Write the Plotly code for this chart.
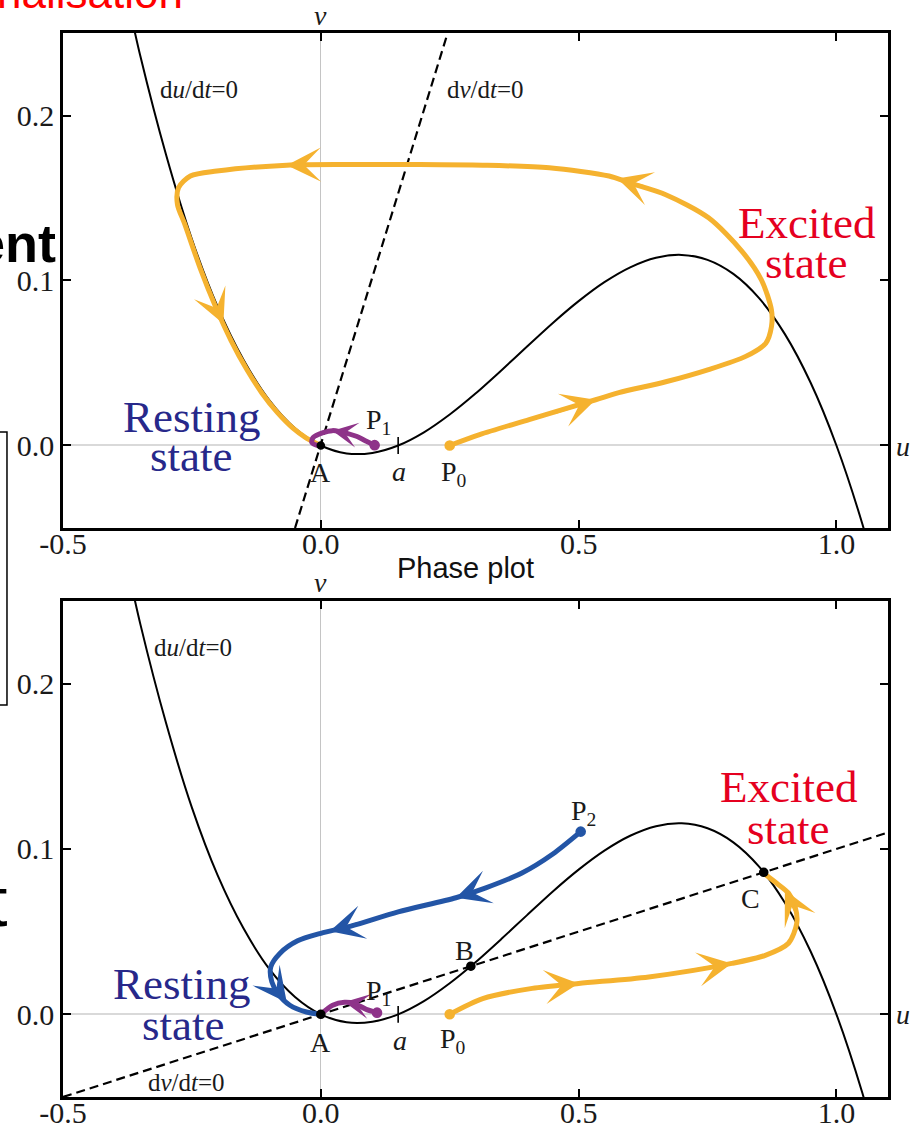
import plotly.graph_objects as go

SERIF = "Liberation Serif"
SANS = "Liberation Sans"

# ---------------- data ----------------
# du/dt = 0 nullcline (cubic)
NULL_U = [-0.38, -0.35, -0.30, -0.25, -0.20, -0.15, -0.10, -0.05, 0.0, 0.05, 0.10, 0.15,
          0.20, 0.25, 0.30, 0.35, 0.40, 0.45, 0.50, 0.55, 0.60, 0.65, 0.70, 0.75, 0.80, 0.85,
          0.90, 0.95, 1.00, 1.05, 1.10]
NULL_V = [0.278, 0.236, 0.176, 0.125, 0.084, 0.052, 0.0275, 0.0105, 0.0, -0.0048, -0.0045, 0.0,
          0.008, 0.0188, 0.0315, 0.0455, 0.060, 0.0743, 0.0875, 0.099, 0.108, 0.1138, 0.1155,
          0.1125, 0.104, 0.0893, 0.0675, 0.038, 0.0, -0.0473, -0.1045]

# dv/dt = 0 nullclines
DVDT_TOP_U = [-0.05, 0.246]
DVDT_TOP_V = [-0.05, 0.25]
DVDT_BOT_U = [-0.5, 1.1]
DVDT_BOT_V = [-0.05, 0.11]

# top panel trajectories
TOP_P0_U = [0.25, 0.308, 0.404, 0.533, 0.578, 0.669, 0.752, 0.824, 0.863, 0.874, 0.874, 0.855, 0.816,
            0.752, 0.669, 0.598, 0.559, 0.443, 0.314, 0.185, 0.056, -0.066, -0.2017, -0.253, -0.276,
            -0.278, -0.264, -0.234, -0.204, -0.174, -0.144, -0.114, -0.084, -0.054, -0.028, 0.0]
TOP_P0_V = [0.0, 0.0066, 0.0157, 0.0277, 0.032, 0.0386, 0.046, 0.054, 0.062, 0.072, 0.082, 0.100, 0.118,
            0.138, 0.152, 0.1592, 0.1633, 0.1683, 0.1699, 0.1703, 0.1703, 0.1699, 0.1663, 0.1633, 0.1562,
            0.146, 0.1343, 0.1075, 0.084, 0.0636, 0.0463, 0.0317, 0.0199, 0.0105, 0.0045, 0.0]
TOP_P1_U = [0.1044, 0.0884, 0.069, 0.0368, 0.0226, 0.0045, -0.015, -0.0174, -0.006, 0.0]
TOP_P1_V = [0.0002, 0.0026, 0.0056, 0.0084, 0.009, 0.0078, 0.0048, 0.0018, 0.0, 0.0]

# bottom panel trajectories
BOT_P0_U = [0.25, 0.314, 0.41, 0.5, 0.636, 0.797, 0.862, 0.907, 0.923, 0.92, 0.907, 0.881, 0.859]
BOT_P0_V = [0.0, 0.0095, 0.0157, 0.0187, 0.0226, 0.0308, 0.0357, 0.043, 0.055, 0.065, 0.0733, 0.080, 0.0853]
BOT_P1_U = [0.109, 0.088, 0.066, 0.046, 0.023, 0.0]
BOT_P1_V = [0.001, 0.003, 0.0065, 0.0073, 0.0055, 0.0]
BOT_P2_U = [0.504, 0.45, 0.39, 0.32, 0.262, 0.15, 0.06, 0.0, -0.045, -0.079, -0.097, -0.095, -0.083, -0.06, -0.028, 0.0]
BOT_P2_V = [0.1105, 0.097, 0.0855, 0.0765, 0.0705, 0.062, 0.0535, 0.049, 0.0445, 0.037, 0.0287, 0.0196, 0.0125, 0.0055, 0.0014, 0.0]

# fixed points (A, B, C)
TOP_FIXED_U = [0.0]
TOP_FIXED_V = [0.0]
BOT_FIXED_U = [0.0, 0.291, 0.859]
BOT_FIXED_V = [0.0, 0.0291, 0.0859]
A_PARAM = 0.15

# arrow heads: (tip_u, tip_v, tail_u, tail_v)
TOP_ORANGE_ARROWS = [(0.533, 0.0277, 0.45, 0.0195), (0.575, 0.1618, 0.63, 0.1565),
                     (-0.066, 0.1699, 0.02, 0.1703), (-0.189, 0.0738, -0.215, 0.0925)]
TOP_PURPLE_ARROWS = [(0.0226, 0.009, 0.055, 0.0072)]
BOT_ORANGE_ARROWS = [(0.50, 0.0187, 0.42, 0.016), (0.797, 0.0308, 0.71, 0.026), (0.90, 0.0752, 0.921, 0.062)]
BOT_BLUE_ARROWS = [(0.262, 0.0705, 0.32, 0.0765), (0.0174, 0.0502, 0.08, 0.0555), (-0.066, 0.0072, -0.09, 0.017)]
BOT_PURPLE_ARROWS = [(0.046, 0.0074, 0.072, 0.006)]

X_TICKS = [-0.5, 0.0, 0.5, 1.0]
X_TICKTEXT = ["-0.5", "0.0", "0.5", "1.0"]
Y_TICKS = [0.0, 0.1, 0.2]
Y_TICKTEXT = ["0.0", "0.1", "0.2"]

ORANGE = "#F5B22F"
PURPLE = "#8E3389"
BLUE = "#2355A6"
RED_TXT = "#E5001F"
NAVY_TXT = "#27288A"

fig = go.Figure()


def line(u, v, xa, ya, color, width, dash=None):
    fig.add_trace(go.Scatter(x=u, y=v, xaxis=xa, yaxis=ya, mode="lines",
                             line=dict(color=color, width=width, dash=dash, shape="spline", smoothing=0.8),
                             hoverinfo="skip"))


def dots(u, v, xa, ya, color, size=9, symbol="circle"):
    fig.add_trace(go.Scatter(x=u, y=v, xaxis=xa, yaxis=ya, mode="markers",
                             marker=dict(color=color, size=size, symbol=symbol,
                                         line=dict(color=color, width=1.6)),
                             hoverinfo="skip"))


for xa, ya, dvu, dvv in [("x", "y", DVDT_TOP_U, DVDT_TOP_V), ("x2", "y2", DVDT_BOT_U, DVDT_BOT_V)]:
    fig.add_trace(go.Scatter(x=dvu, y=dvv, xaxis=xa, yaxis=ya, mode="lines",
                             line=dict(color="black", width=2.2, dash="9px,5px"), hoverinfo="skip"))
    line(NULL_U, NULL_V, xa, ya, "black", 2)
    dots([A_PARAM], [0.0], xa, ya, "black", size=12, symbol="line-ns")

# top panel
line(TOP_P0_U, TOP_P0_V, "x", "y", ORANGE, 5)
line(TOP_P1_U, TOP_P1_V, "x", "y", PURPLE, 5)
dots(TOP_FIXED_U, TOP_FIXED_V, "x", "y", "black", size=7)
dots([TOP_P0_U[0]], [TOP_P0_V[0]], "x", "y", ORANGE)
dots([TOP_P1_U[0]], [TOP_P1_V[0]], "x", "y", PURPLE)

# bottom panel
line(BOT_P0_U, BOT_P0_V, "x2", "y2", ORANGE, 5)
line(BOT_P2_U, BOT_P2_V, "x2", "y2", BLUE, 5)
line(BOT_P1_U, BOT_P1_V, "x2", "y2", PURPLE, 5)
dots(BOT_FIXED_U, BOT_FIXED_V, "x2", "y2", "black", size=8)
dots([BOT_P0_U[0]], [BOT_P0_V[0]], "x2", "y2", ORANGE)
dots([BOT_P1_U[0]], [BOT_P1_V[0]], "x2", "y2", PURPLE)
dots([BOT_P2_U[0]], [BOT_P2_V[0]], "x2", "y2", BLUE)

ann = []


def arrows(lst, xr, yr, color, size=1.9):
    for tu, tv, su, sv in lst:
        ann.append(dict(x=tu, y=tv, ax=su, ay=sv, xref=xr, yref=yr, axref=xr, ayref=yr,
                        text="", showarrow=True, arrowhead=3, arrowsize=size, arrowwidth=3,
                        arrowcolor=color, standoff=0))


arrows(TOP_ORANGE_ARROWS, "x", "y", ORANGE)
arrows(TOP_PURPLE_ARROWS, "x", "y", PURPLE, size=1.4)
arrows(BOT_ORANGE_ARROWS, "x2", "y2", ORANGE)
arrows(BOT_BLUE_ARROWS, "x2", "y2", BLUE)
arrows(BOT_PURPLE_ARROWS, "x2", "y2", PURPLE, size=1.4)


def label(text, x, y, xr, yr, size=28, color="#1a1a1a", family=SERIF, xanchor="center", yanchor="middle"):
    ann.append(dict(text=text, x=x, y=y, xref=xr, yref=yr, showarrow=False,
                    font=dict(family=family, size=size, color=color),
                    xanchor=xanchor, yanchor=yanchor))


# top panel labels
label("d<i>u</i>/d<i>t</i>=0", -0.315, 0.216, "x", "y", size=25, xanchor="left")
label("d<i>v</i>/d<i>t</i>=0", 0.240, 0.216, "x", "y", size=25, xanchor="left")
label("A", 0.0, -0.0163, "x", "y")
label("<i>a</i>", 0.151, -0.0157, "x", "y")
label("P<sub>0</sub>", 0.258, -0.017, "x", "y")
label("P<sub>1</sub>", 0.111, 0.0145, "x", "y")
label("Excited", 0.942, 0.1349, "x", "y", size=45, color=RED_TXT)
label("state", 0.940, 0.1108, "x", "y", size=45, color=RED_TXT)
label("Resting", -0.2495, 0.0175, "x", "y", size=45, color=NAVY_TXT)
label("state", -0.251, -0.0066, "x", "y", size=45, color=NAVY_TXT)

# bottom panel labels
label("d<i>u</i>/d<i>t</i>=0", -0.327, 0.2218, "x2", "y2", size=25, xanchor="left")
label("d<i>v</i>/d<i>t</i>=0", -0.340, -0.0412, "x2", "y2", size=25, xanchor="left")
label("A", 0.0, -0.017, "x2", "y2")
label("<i>a</i>", 0.153, -0.016, "x2", "y2")
label("P<sub>0</sub>", 0.256, -0.016, "x2", "y2")
label("P<sub>1</sub>", 0.111, 0.0133, "x2", "y2")
label("P<sub>2</sub>", 0.510, 0.122, "x2", "y2")
label("B", 0.279, 0.0388, "x2", "y2")
label("C", 0.834, 0.0703, "x2", "y2")
label("Excited", 0.907, 0.1376, "x2", "y2", size=45, color=RED_TXT)
label("state", 0.907, 0.1121, "x2", "y2", size=45, color=RED_TXT)
label("Resting", -0.269, 0.0182, "x2", "y2", size=45, color=NAVY_TXT)
label("state", -0.267, -0.0067, "x2", "y2", size=45, color=NAVY_TXT)

# axis-name labels and slide fragments (paper coordinates)
label("<i>v</i>", 0.3127, 1.0169, "paper", "paper")
label("<i>v</i>", 0.3127, 0.4831, "paper", "paper")
label("<i>u</i>", 1.0182, 0.6118, "paper", "paper")
label("<i>u</i>", 1.0182, 0.0780, "paper", "paper")
label("Phase plot", 0.4873, 0.4972, "paper", "paper", size=29, color="#111111", family=SANS)
label("nalisation", 0.1479, 1.0385, "paper", "paper", size=44, color="#FF0000", family=SANS, xanchor="right")
label("<b>ent</b>", -0.006, 0.8026, "paper", "paper", size=54, color="#000000",
      family="Liberation Sans Narrow, Liberation Sans", xanchor="right")
label("t", -0.0655, 0.1833, "paper", "paper", size=70, color="#000000", family=SANS, xanchor="right")

shapes = [dict(type="rect", xref="paper", yref="paper", x0=-0.3, x1=-0.0679, y0=0.3684, y1=0.625,
               line=dict(color="black", width=1.5))]

axis_common = dict(showline=True, linecolor="black", linewidth=2.5, mirror="ticks",
                   ticks="inside", ticklen=8, tickwidth=2, tickcolor="black",
                   showgrid=False, zeroline=True, automargin=False,
                   tickfont=dict(family=SERIF, size=30, color="#1a1a1a"))

xa = dict(axis_common, range=[-0.5, 1.1], tickvals=X_TICKS, ticktext=X_TICKTEXT,
          zerolinecolor="#c4c4c4", zerolinewidth=1, ticklabelstandoff=-13)
ya = dict(axis_common, range=[-0.05, 0.25], tickvals=Y_TICKS, ticktext=Y_TICKTEXT,
          zerolinecolor="#d9d9d9", zerolinewidth=2)

fig.update_layout(
    width=913, height=1128,
    margin=dict(l=63, r=25, t=33, b=31),
    paper_bgcolor="white", plot_bgcolor="white",
    showlegend=False,
    xaxis=dict(xa, domain=[0, 1], anchor="y"),
    yaxis=dict(ya, domain=[0.5348, 1.0], anchor="x"),
    xaxis2=dict(xa, domain=[0, 1], anchor="y2"),
    yaxis2=dict(ya, domain=[0.0, 0.4662], anchor="x2"),
    annotations=ann,
    shapes=shapes,
)

fig.write_html("out.html")
